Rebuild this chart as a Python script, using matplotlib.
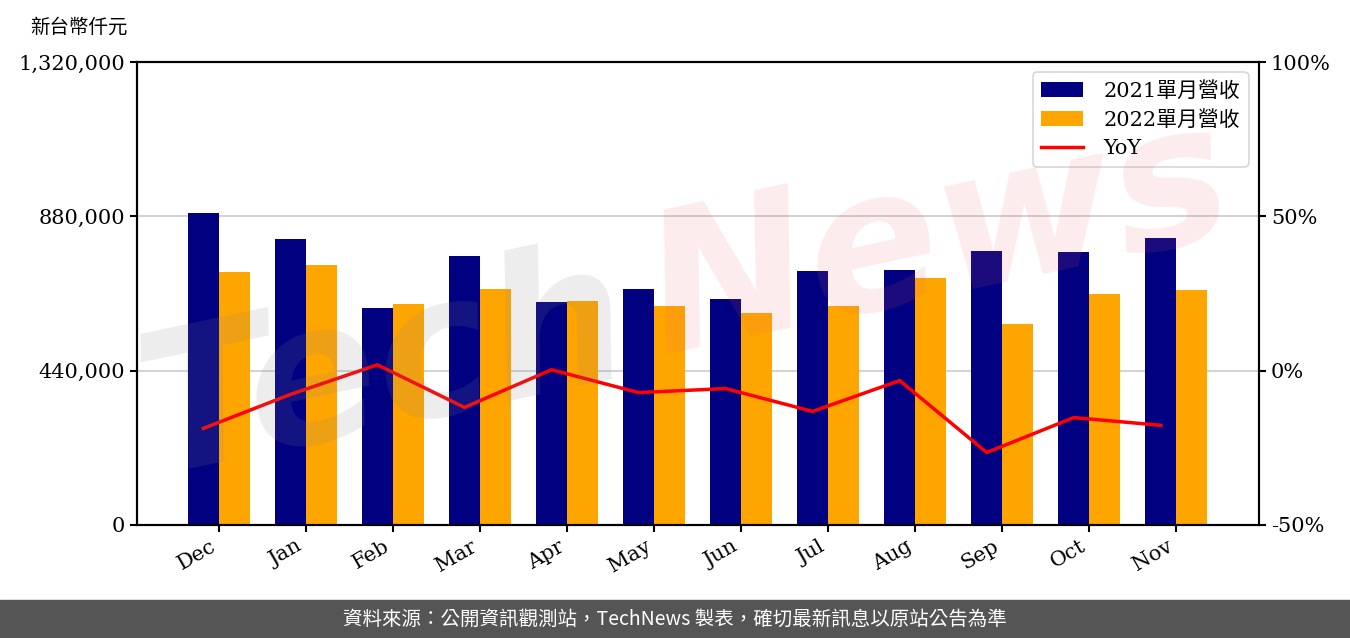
import matplotlib
matplotlib.use("Agg")
import matplotlib.pyplot as plt
from matplotlib.patches import Rectangle
from matplotlib.ticker import FuncFormatter
import numpy as np

months = ["Dec", "Jan", "Feb", "Mar", "Apr", "May", "Jun", "Jul", "Aug", "Sep", "Oct", "Nov"]
rev_2021 = [889500, 815400, 618700, 766900, 635800, 672800, 644300, 724100, 727000, 781200, 778300, 818200]
rev_2022 = [721300, 741300, 630100, 672800, 638600, 624400, 604400, 624400, 704200, 573000, 658600, 670000]
yoy = [-18.7, -7.7, 1.9, -11.9, 0.3, -7.1, -5.8, -13.2, -3.2, -26.5, -15.2, -17.7]
left_ticks = [0, 440000, 880000, 1320000]
right_ticks = [-50, 0, 50, 100]

FONT = ["DejaVu Serif", "Noto Sans CJK TC"]
plt.rcParams["font.family"] = FONT

fig = plt.figure(figsize=(13.5, 6.38), dpi=100)
ax = fig.add_axes([137/1350, 1-525/638, (1259-137)/1350, (525-62)/638])

x = np.arange(len(months))
w = 0.356
ax.bar(x, rev_2021, width=-w, align="edge", color="#000080", label="2021單月營收", zorder=2)
ax.bar(x, rev_2022, width=w, align="edge", color="#FFA500", label="2022單月營收", zorder=2)
ax.set_ylim(0, 1320000)
ax.set_xlim(-0.94, 11.95)
ax.set_yticks(left_ticks)
ax.yaxis.set_major_formatter(FuncFormatter(lambda v, p: f"{int(v):,}"))
ax.grid(axis="y", color="#d3d3d3", lw=1.5, zorder=0)
ax.set_axisbelow(True)
ax.set_xticks(x)
ax.set_xticklabels(months, rotation=30, ha="right", rotation_mode="default")
ax.tick_params(axis="both", labelsize=15, width=1.5, length=5)

ax2 = ax.twinx()
ax2.plot(x - w/2, yoy, color="red", lw=2.5, label="YoY", zorder=3)
ax2.set_ylim(-50, 100)
ax2.set_yticks(right_ticks)
ax2.yaxis.set_major_formatter(FuncFormatter(lambda v, p: f"{int(v)}%"))
ax2.tick_params(axis="y", labelsize=15, width=1.5, length=5)
for a in (ax, ax2):
    for s in a.spines.values():
        s.set_linewidth(1.5)

h1, l1 = ax.get_legend_handles_labels()
h2, l2 = ax2.get_legend_handles_labels()
leg = ax2.legend(h1 + h2, l1 + l2, loc="upper right", fontsize=15, frameon=True,
                 edgecolor="#cccccc", handlelength=2.0, handletextpad=1.0,
                 borderpad=0.4, labelspacing=0.45)
leg.get_frame().set_linewidth(1.2)

# watermark
fig.text(385/1350, 1-370/638, "Tech", fontsize=140, color="#888888", alpha=0.15, rotation=12,
         ha="center", va="center", style="italic", fontweight="bold", family="DejaVu Sans")
fig.text(940/1350, 1-240/638, "News", fontsize=140, color="#E6646E", alpha=0.12, rotation=12,
         ha="center", va="center", style="italic", fontweight="bold", family="DejaVu Sans")

fig.text(30/1350, 1-27/638, "新台幣仟元", fontsize=14, ha="left", va="center", family=FONT)

fig.patches.append(Rectangle((0, 0), 1, 38/638, transform=fig.transFigure, color="#555555", zorder=-1))
fig.text(0.5, 19/638, "資料來源：公開資訊觀測站，TechNews 製表，確切最新訊息以原站公告為準",
         color="white", fontsize=14, ha="center", va="center", family=["Noto Sans CJK TC", "DejaVu Sans"])

fig.savefig("out.png", dpi=100)
